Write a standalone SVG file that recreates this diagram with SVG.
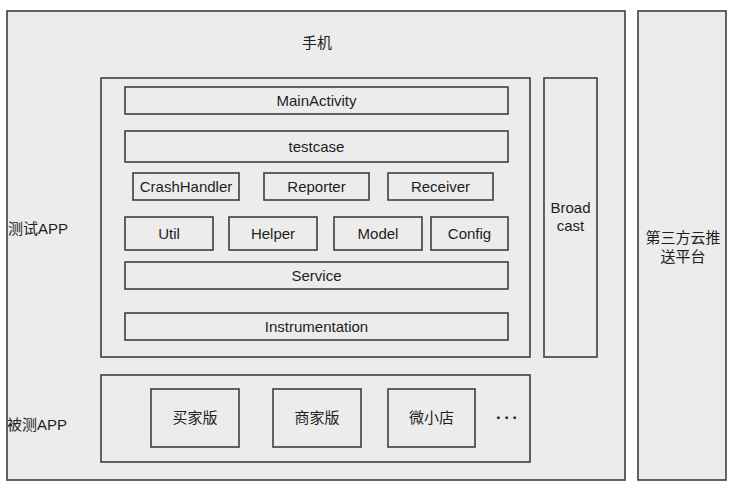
<svg xmlns="http://www.w3.org/2000/svg" width="730" height="491" viewBox="0 0 730 491">
<style>
rect{fill:#ececec;stroke:#3f3f3f;stroke-width:1.6}
text{font-family:"Liberation Sans","Noto Sans CJK SC",Arial,sans-serif;font-size:15px;fill:#1e1e1e}
.c{text-anchor:middle}
</style>
<rect x="0" y="0" width="730" height="491" style="fill:#ffffff;stroke:none"/>
<g id="phone"><rect x="7" y="11" width="618" height="469"/><text class="c" x="317" y="48">手机</text></g>
<g id="cloud"><rect x="638" y="11" width="88" height="469"/><text class="c" x="683" y="243">第三方云推</text><text class="c" x="683" y="262">送平台</text></g>
<g id="label-test"><text x="8" y="234">测试APP</text></g>
<g id="label-target"><text x="7" y="430">被测APP</text></g>
<g id="testapp"><rect x="101" y="78" width="429" height="279"/></g>
<g id="broadcast"><rect x="544" y="78" width="53" height="279"/><text class="c" x="570.500" y="213">Broad</text><text class="c" x="570.500" y="231">cast</text></g>
<g id="mainactivity"><rect x="125" y="87" width="383" height="27"/><text class="c" x="316.500" y="105.500">MainActivity</text></g>
<g id="testcase"><rect x="125" y="131" width="383" height="31"/><text class="c" x="316.500" y="151.500">testcase</text></g>
<g id="crashhandler"><rect x="133" y="173" width="106" height="27"/><text class="c" x="186" y="191.500">CrashHandler</text></g>
<g id="reporter"><rect x="264" y="173" width="105" height="27"/><text class="c" x="316.500" y="191.500">Reporter</text></g>
<g id="receiver"><rect x="388" y="173" width="105" height="27"/><text class="c" x="440.500" y="191.500">Receiver</text></g>
<g id="util"><rect x="125" y="217" width="88" height="33"/><text class="c" x="169" y="238.500">Util</text></g>
<g id="helper"><rect x="229" y="217" width="88" height="33"/><text class="c" x="273" y="238.500">Helper</text></g>
<g id="model"><rect x="334" y="217" width="88" height="33"/><text class="c" x="378" y="238.500">Model</text></g>
<g id="config"><rect x="431" y="217" width="77" height="33"/><text class="c" x="469.500" y="238.500">Config</text></g>
<g id="service"><rect x="125" y="262" width="383" height="27"/><text class="c" x="316.500" y="280.500">Service</text></g>
<g id="instrumentation"><rect x="125" y="313" width="383" height="27"/><text class="c" x="316.500" y="331.500">Instrumentation</text></g>
<g id="targetapp"><rect x="101" y="375" width="429" height="87"/></g>
<g id="buyer"><rect x="151" y="389" width="88" height="58"/><text class="c" x="195" y="423">买家版</text></g>
<g id="seller"><rect x="273" y="389" width="88" height="58"/><text class="c" x="317" y="423">商家版</text></g>
<g id="weixiaodian"><rect x="388" y="389" width="87" height="58"/><text class="c" x="431.500" y="423">微小店</text></g>
<g id="more"><text x="496" y="423" style="font-weight:bold;font-size:17px;letter-spacing:2.5px">···</text></g>
<g id="connectors"></g>
</svg>
